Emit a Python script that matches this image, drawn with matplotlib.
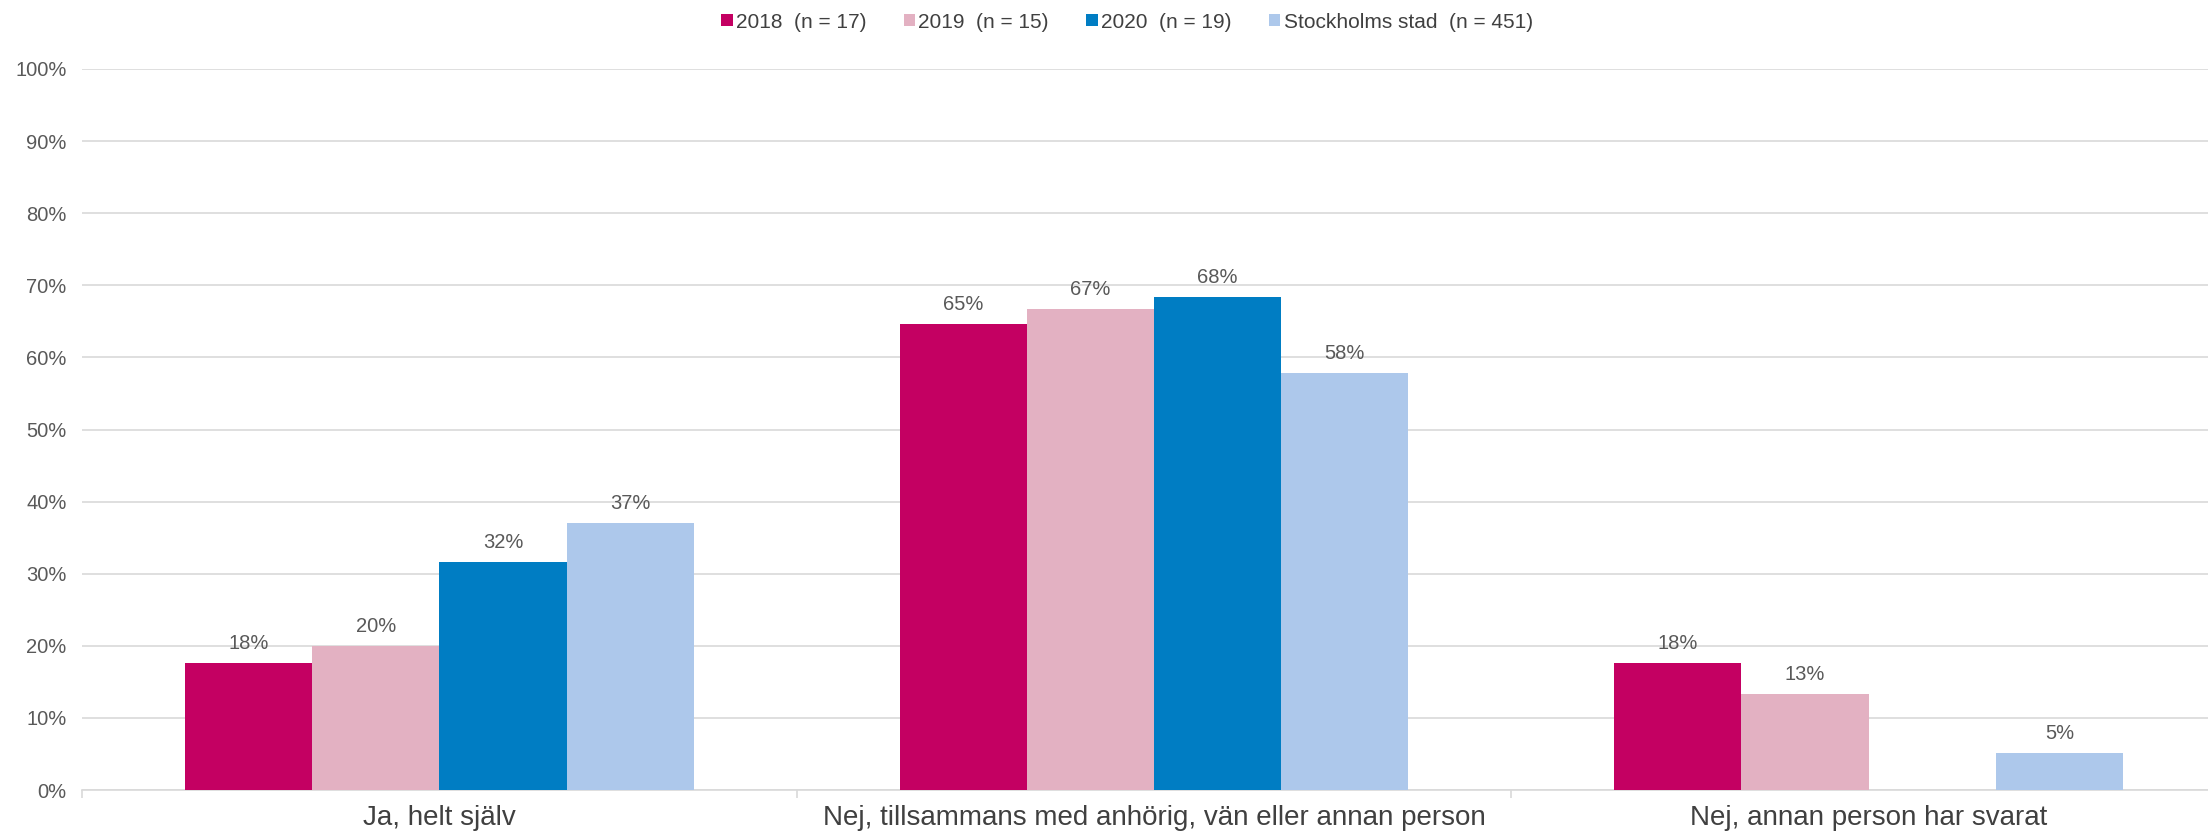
import matplotlib
matplotlib.use("Agg")
import matplotlib.pyplot as plt
import numpy as np

categories = ["Ja, helt själv",
              "Nej, tillsammans med anhörig, vän eller annan person",
              "Nej, annan person har svarat"]
series_names = ["2018  (n = 17)", "2019  (n = 15)", "2020  (n = 19)", "Stockholms stad  (n = 451)"]
v2018 = [17.6, 64.7, 17.6]
v2019 = [20.0, 66.7, 13.3]
v2020 = [31.6, 68.4, 0.0]
vsthlm = [37.1, 57.9, 5.2]
series_values = [v2018, v2019, v2020, vsthlm]
colors = ["#C40062", "#E3B1C2", "#007DC3", "#ADC8EB"]
yticks = [0, 10, 20, 30, 40, 50, 60, 70, 80, 90, 100]

plt.rcParams['font.family'] = ['Liberation Sans', 'DejaVu Sans']
text_col = "#595959"

fig = plt.figure(figsize=(22.08, 8.33), dpi=100)
ax = fig.add_axes([82/2208, 1 - 790/833, 1 - 82/2208, (790 - 69)/833])

x = np.arange(len(categories))
w = 0.178
n = len(series_values)
for i, (name, vals, c) in enumerate(zip(series_names, series_values, colors)):
    pos = x + (i - (n - 1) / 2) * w
    ax.bar(pos, vals, width=w, color=c, label=name, zorder=3)
    for p, v in zip(pos, vals):
        if v > 0:
            ax.annotate(f"{v:.0f}%", (p, v), xytext=(0, 7), textcoords="offset points",
                        ha="center", va="bottom", fontsize=14.5, color=text_col)

ax.set_ylim(0, 100)
ax.set_xlim(-0.5, 2.475)
ax.set_yticks(yticks)
ax.set_yticklabels([f"{t}%" for t in yticks], fontsize=14.5, color=text_col)
ax.tick_params(axis="y", length=0, pad=11)
ax.yaxis.grid(True, color="#D9D9D9", linewidth=1.2, zorder=0)
ax.set_xticks(x)
ax.set_xticklabels(categories, fontsize=20, color="#404040")
ax.tick_params(axis="x", length=0, pad=11)
ax.set_xticks([-0.5, 0.5, 1.5], minor=True)
ax.tick_params(axis="x", which="minor", length=6, color="#D9D9D9", width=1.2)
for s in ["top", "right", "left"]:
    ax.spines[s].set_visible(False)
ax.spines["bottom"].set_color("#D9D9D9")
ax.spines["bottom"].set_linewidth(1.2)

leg = fig.legend(loc="center", bbox_to_anchor=(1127/2208, 1 - 22/833), ncol=4, frameon=False,
                 fontsize=15, handlelength=0.55, handleheight=0.55, handletextpad=0.15,
                 columnspacing=1.8)
for t in leg.get_texts():
    t.set_color("#404040")

fig.savefig("out.png", dpi=100)
